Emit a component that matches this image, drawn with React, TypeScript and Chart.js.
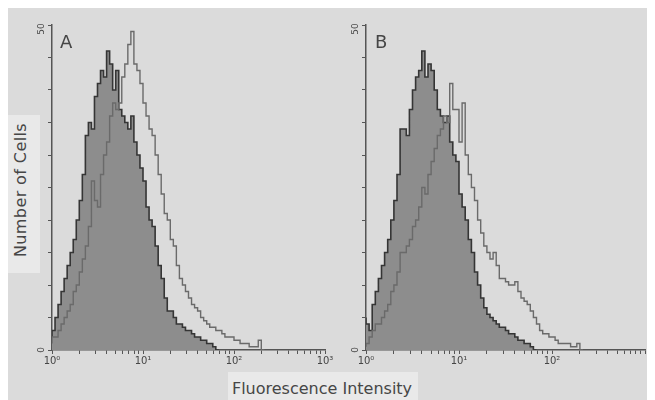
import React, { useEffect, useRef } from 'react';
import { Chart, registerables } from 'chart.js';

Chart.register(...registerables);

// ---------- data ----------
const decadeLabels = ['10⁰', '10¹', '10²', '10³'];
const channelsPerDecade = 30;
const totalChannels = 90;
const yMax = 50;
const yStep = 5;
const yEndLabels = ['0', '50'];
const panelLetters = ['A', 'B'];
const xAxisTitle = 'Fluorescence Intensity';
const yAxisTitle = 'Number of Cells';

// Panel A: filled (control) histogram, counts per channel
const filledA = [
  2, 3, 5, 7, 9, 11, 13, 15, 17, 20,
  23, 27, 33, 35, 34, 39, 41, 43, 42, 46,
  44, 40, 43, 37, 36, 35, 34, 36, 32, 30,
  28, 26, 22, 20, 19, 16, 13, 11, 8, 6,
  6, 5, 4, 4, 3.5, 3, 3, 2.5, 2, 2,
  1.5, 1.5, 1, 1, 0.5, 0,
];
// Panel A: open (stained) histogram
const openA = [
  1, 2, 2, 3, 4, 5, 6, 7, 9, 10,
  12, 14, 16, 19, 26, 23, 22, 27, 30, 32,
  36, 38, 37, 38, 42, 44, 47, 49, 44, 43,
  41, 38, 36, 34, 33, 30, 27, 24, 21, 20,
  17, 16, 13, 11, 10, 9, 8, 7, 6.5, 6,
  5, 4.5, 4, 3.5, 3.5, 3, 3, 2.5, 2, 2,
  2, 1.5, 1.5, 1, 1, 1, 0.5, 0.5, 0.5, 1.5,
  0,
];
// Panel B: filled (control) histogram
const filledB = [
  5, 4, 3, 7, 9, 11, 13, 15, 17, 20,
  23, 27, 34, 34, 33, 37, 40, 42, 43, 46,
  42, 44, 43, 40, 37, 36, 35, 36, 32, 30,
  29, 24, 22, 20, 17, 15, 12, 10, 8, 6.5,
  5.5, 5, 4.5, 4, 3.5, 3.5, 3, 2.5, 2.5, 2,
  1.5, 1.5, 1, 1, 0.5, 0,
];
// Panel B: open (stained) histogram
const openB = [
  0.5, 1, 2, 3, 4, 4, 5, 6, 7, 9,
  10, 12, 15, 15, 16, 17, 19, 20, 22, 25,
  24, 27, 29, 31, 33, 34, 36, 35, 41, 37,
  37, 32, 38, 30, 27, 25, 23, 20, 18, 16,
  15, 14, 15, 13, 11, 11, 10.5, 10, 10, 10.5,
  9, 8, 7.5, 7, 6, 5, 4, 3, 2.5, 2.5,
  2, 2, 1.5, 1, 1, 1, 1, 0.5, 0.5, 1,
  0,
];

// ---------- styling ----------
const BG = '#dbdbdb';
const PATCH = '#e9e9e9';
const AXIS = '#555555';
const TEXT = '#464646';
const FILL = '#8d8d8d';
const FILL_EDGE = '#353535';
const OPEN_EDGE = '#6a6a6a';
const FONT = '"DejaVu Sans", sans-serif';

const toPoints = (arr: number[]) => arr.map((v, i) => ({ x: i, y: v }));

function minorTickValues(): number[] {
  const vals: number[] = [];
  for (let d = 0; d < 3; d++) {
    vals.push(d * channelsPerDecade);
    for (let k = 2; k <= 9; k++) vals.push(d * channelsPerDecade + channelsPerDecade * Math.log10(k));
  }
  vals.push(3 * channelsPerDecade);
  return vals;
}

function makeChart(
  canvas: HTMLCanvasElement,
  filled: number[],
  open: number[],
  letter: string,
  padding: { left: number; right: number; top: number; bottom: number },
  hideLastDecade: boolean,
  letterOffset: number
) {
  const overlay = {
    id: 'overlay' + letter,
    afterDraw(chart: any) {
      const { ctx, chartArea, scales } = chart;
      ctx.save();
      ctx.fillStyle = TEXT;
      ctx.font = `18px ${FONT}`;
      ctx.textBaseline = 'alphabetic';
      ctx.textAlign = 'left';
      ctx.fillText(letter, chartArea.left + letterOffset, chartArea.top + 23);
      // rotated y end labels
      ctx.font = `9px ${FONT}`;
      ctx.textAlign = 'center';
      ctx.textBaseline = 'middle';
      const yv = [0, yMax];
      yv.forEach((v, i) => {
        const py = scales.y.getPixelForValue(v);
        ctx.save();
        ctx.translate(chartArea.left - 10, i === 0 ? py : py + 4);
        ctx.rotate(-Math.PI / 2);
        ctx.fillText(yEndLabels[i], 0, 0);
        ctx.restore();
      });
      ctx.restore();
    },
  };

  return new Chart(canvas, {
    type: 'line',
    data: {
      datasets: [
        {
          data: toPoints(open),
          stepped: 'after',
          borderColor: OPEN_EDGE,
          borderWidth: 1.4,
          pointRadius: 0,
          fill: false,
        },
        {
          data: toPoints(filled),
          stepped: 'after',
          borderColor: FILL_EDGE,
          borderWidth: 1.6,
          backgroundColor: FILL,
          pointRadius: 0,
          fill: 'origin',
        },
      ],
    },
    options: {
      animation: false,
      responsive: false,
      events: [],
      layout: { padding },
      plugins: { legend: { display: false }, tooltip: { enabled: false } },
      scales: {
        x: {
          type: 'linear',
          min: 0,
          max: totalChannels,
          afterBuildTicks: (s: any) => {
            s.ticks = minorTickValues().map((v) => ({ value: v }));
          },
          afterFit: (s: any) => {
            s.height = 20;
          },
          ticks: {
            autoSkip: false,
            maxRotation: 0,
            minRotation: 0,
            padding: 1,
            color: TEXT,
            font: { size: 10, family: FONT },
            callback: (v: any) => {
              const d = Math.round(Number(v) / channelsPerDecade);
              if (Math.abs(Number(v) - d * channelsPerDecade) > 1e-6) return '';
              if (hideLastDecade && d === 3) return '';
              return decadeLabels[d];
            },
          },
          grid: { drawOnChartArea: false, drawTicks: true, tickLength: 4, color: AXIS, lineWidth: 1 },
          border: { display: true, color: AXIS, width: 1.5 },
        },
        y: {
          type: 'linear',
          min: 0,
          max: yMax,
          afterFit: (s: any) => {
            s.width = 12;
          },
          ticks: { stepSize: yStep, callback: () => '', padding: 0 },
          grid: { drawOnChartArea: false, drawTicks: true, tickLength: 4, color: AXIS, lineWidth: 1 },
          border: { display: true, color: AXIS, width: 1.5 },
        },
      },
    },
    plugins: [overlay],
  } as any);
}

export default function App() {
  const refA = useRef<HTMLCanvasElement>(null);
  const refB = useRef<HTMLCanvasElement>(null);

  useEffect(() => {
    const a = makeChart(refA.current!, filledA, openA, panelLetters[0], { left: 32, right: 15, top: 17, bottom: 5 }, false, 8);
    const b = makeChart(refB.current!, filledB, openB, panelLetters[1], { left: 14, right: 10, top: 17, bottom: 5 }, true, 9);
    return () => {
      a.destroy();
      b.destroy();
    };
  }, []);

  return (
    <div style={{ position: 'relative', width: 647, height: 392, background: BG, overflow: 'hidden', fontFamily: FONT }}>
      <div style={{ position: 'absolute', left: 0, top: 107, width: 32, height: 158, background: PATCH }} />
      <div style={{ position: 'absolute', left: 220, top: 364, width: 190, height: 28, background: PATCH }} />
      <div
        style={{
          position: 'absolute',
          left: 12,
          top: 182,
          width: 0,
          height: 0,
        }}
      >
        <div
          style={{
            position: 'absolute',
            left: 0,
            top: 0,
            transform: 'translate(-50%, -50%) rotate(-90deg)',
            whiteSpace: 'nowrap',
            fontSize: 16,
            letterSpacing: 0.4,
            color: TEXT,
          }}
        >
          {yAxisTitle}
        </div>
      </div>
      <div
        style={{
          position: 'absolute',
          left: 314,
          top: 380,
          transform: 'translate(-50%, -50%)',
          whiteSpace: 'nowrap',
          fontSize: 16,
          color: TEXT,
        }}
      >
        {xAxisTitle}
      </div>
      <canvas ref={refA} width={332} height={367} style={{ position: 'absolute', left: 0, top: 0, width: 332, height: 367 }} />
      <canvas ref={refB} width={315} height={367} style={{ position: 'absolute', left: 332, top: 0, width: 315, height: 367 }} />
    </div>
  );
}
